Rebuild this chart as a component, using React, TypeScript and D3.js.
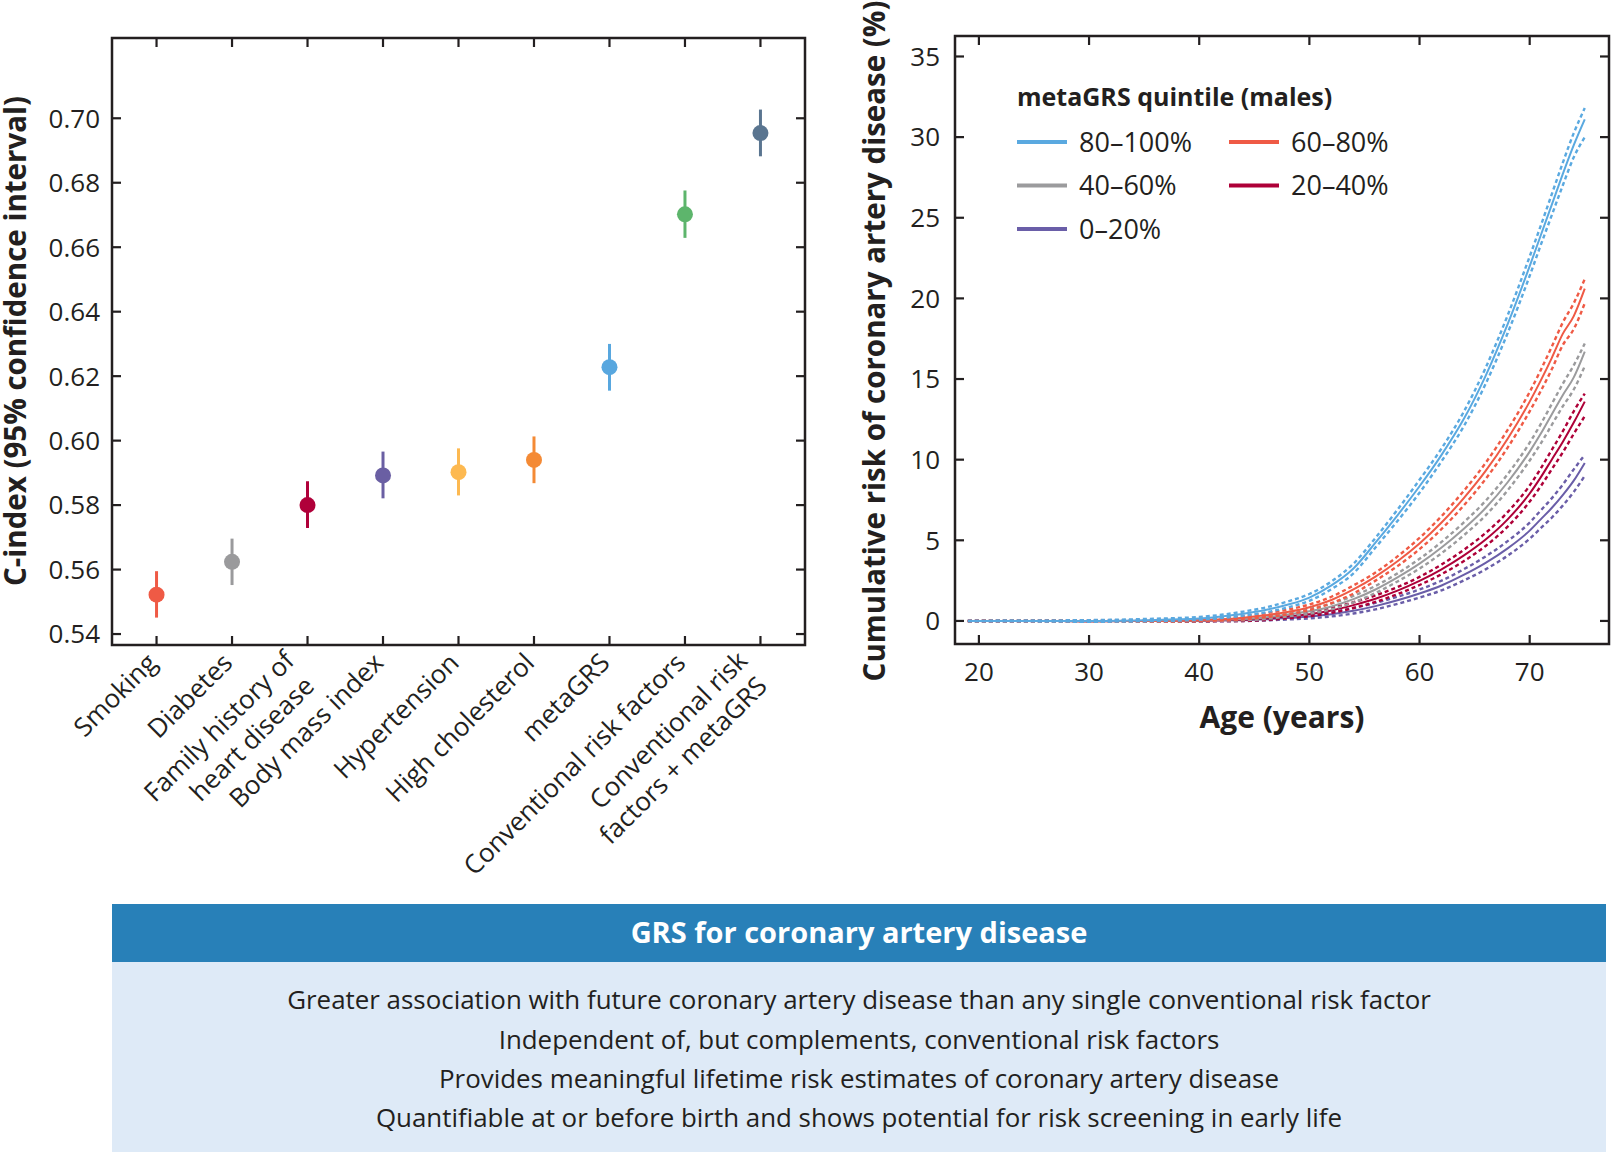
import React from "react";
import * as d3 from "d3";

// ---------- Left panel data ----------
const categoryLines: string[][] = [
  ["Smoking"],
  ["Diabetes"],
  ["Family history of", "heart disease"],
  ["Body mass index"],
  ["Hypertension"],
  ["High cholesterol"],
  ["metaGRS"],
  ["Conventional risk factors"],
  ["Conventional risk", "factors + metaGRS"],
];
const categories = categoryLines.map((l) => l.join(" "));
const cIndex = [0.5522, 0.5624, 0.58, 0.5892, 0.5902, 0.594, 0.6228, 0.6702, 0.6954];
const cLow = [0.5451, 0.5552, 0.5729, 0.5821, 0.583, 0.5868, 0.6155, 0.6629, 0.6882];
const cHigh = [0.5595, 0.5696, 0.5874, 0.5966, 0.5976, 0.6013, 0.63, 0.6776, 0.7027];
const cColors = ["#ef5a45", "#9a9a9c", "#b0003a", "#6a5fa3", "#fdb951", "#f48a35", "#58a7df", "#5db56c", "#5a7590"];
const cTicks = [0.54, 0.56, 0.58, 0.6, 0.62, 0.64, 0.66, 0.68, 0.7];

// ---------- Right panel data ----------
const ages = [19, 25, 30, 35, 40, 42, 44, 46, 48, 50, 52, 54, 56, 58, 60, 62, 64, 66, 68, 70, 71, 72, 73, 74, 75];

const q5Mid = [0, 0, 0, 0.05, 0.15, 0.28, 0.45, 0.68, 1.0, 1.45, 2.2, 3.25, 4.85, 6.55, 8.35, 10.3, 12.5, 15.2, 18.4, 22.0, 23.9, 25.8, 27.7, 29.5, 31.1];
const q5Up = [0.02, 0.03, 0.05, 0.12, 0.25, 0.38, 0.58, 0.83, 1.2, 1.67, 2.45, 3.55, 5.15, 6.9, 8.75, 10.7, 12.95, 15.7, 18.95, 22.6, 24.5, 26.45, 28.4, 30.25, 31.8];
const q5Lo = [-0.02, -0.03, -0.05, -0.02, 0.07, 0.18, 0.33, 0.53, 0.83, 1.25, 1.97, 2.95, 4.55, 6.2, 7.95, 9.9, 12.05, 14.7, 17.85, 21.4, 23.3, 25.15, 27.0, 28.75, 30.0];

const q4Mid = [0, 0, -0.02, 0, 0.05, 0.1, 0.2, 0.35, 0.55, 0.85, 1.3, 1.95, 2.75, 3.7, 4.8, 6.1, 7.6, 9.3, 11.3, 13.6, 14.9, 16.3, 17.8, 18.9, 20.6];
const q4Up = [0.02, 0.03, 0.03, 0.06, 0.12, 0.18, 0.3, 0.47, 0.7, 1.02, 1.5, 2.2, 3.0, 4.0, 5.15, 6.5, 8.05, 9.8, 11.85, 14.2, 15.55, 17.0, 18.5, 19.7, 21.2];
const q4Lo = [-0.02, -0.03, -0.06, -0.05, 0, 0.03, 0.1, 0.23, 0.4, 0.68, 1.1, 1.7, 2.5, 3.4, 4.45, 5.7, 7.15, 8.8, 10.75, 13.0, 14.25, 15.6, 17.1, 18.1, 19.7];

const q3Mid = [0, 0, -0.02, 0, 0.03, 0.07, 0.12, 0.22, 0.4, 0.6, 0.9, 1.35, 1.95, 2.7, 3.55, 4.55, 5.7, 7.0, 8.6, 10.5, 11.6, 12.8, 14.0, 15.1, 16.7];
const q3Up = [0.02, 0.03, 0.03, 0.05, 0.09, 0.14, 0.21, 0.32, 0.52, 0.75, 1.08, 1.55, 2.17, 2.95, 3.85, 4.9, 6.1, 7.45, 9.1, 11.05, 12.2, 13.45, 14.7, 15.85, 17.2];
const q3Lo = [-0.02, -0.03, -0.06, -0.04, -0.02, 0.01, 0.04, 0.12, 0.28, 0.45, 0.72, 1.15, 1.73, 2.45, 3.25, 4.2, 5.3, 6.55, 8.1, 9.95, 11.0, 12.15, 13.3, 14.35, 15.8];

const q2Mid = [0, 0, -0.02, 0, 0.02, 0.05, 0.08, 0.15, 0.28, 0.42, 0.65, 0.98, 1.38, 1.88, 2.48, 3.2, 4.05, 5.05, 6.3, 7.9, 8.9, 10.0, 11.1, 12.3, 13.6];
const q2Up = [0.02, 0.03, 0.03, 0.04, 0.07, 0.11, 0.16, 0.24, 0.39, 0.55, 0.8, 1.16, 1.58, 2.1, 2.73, 3.5, 4.4, 5.45, 6.75, 8.4, 9.45, 10.6, 11.75, 13.0, 14.1];
const q2Lo = [-0.02, -0.03, -0.06, -0.04, -0.03, -0.01, 0, 0.06, 0.17, 0.29, 0.5, 0.8, 1.18, 1.66, 2.23, 2.9, 3.7, 4.65, 5.85, 7.4, 8.35, 9.4, 10.45, 11.6, 12.7];

const q1Mid = [0, 0, -0.02, 0, 0.01, 0.03, 0.05, 0.1, 0.18, 0.28, 0.42, 0.63, 0.92, 1.28, 1.7, 2.2, 2.85, 3.6, 4.5, 5.6, 6.3, 7.0, 7.8, 8.7, 9.8];
const q1Up = [0.02, 0.03, 0.03, 0.04, 0.06, 0.08, 0.12, 0.18, 0.28, 0.4, 0.56, 0.8, 1.12, 1.5, 1.95, 2.5, 3.2, 4.0, 4.95, 6.1, 6.85, 7.6, 8.45, 9.4, 10.3];
const q1Lo = [-0.02, -0.03, -0.06, -0.04, -0.04, -0.02, -0.01, 0.03, 0.09, 0.16, 0.28, 0.46, 0.72, 1.06, 1.45, 1.9, 2.5, 3.2, 4.05, 5.1, 5.75, 6.4, 7.15, 8.0, 9.0];

const quintileNames = ["0–20%", "20–40%", "40–60%", "60–80%", "80–100%"];
const quintileColors = ["#6a5ea8", "#ae0038", "#9b9b9d", "#ef5a45", "#5aa9e0"];
const quintileSeries = [
  { mid: q1Mid, up: q1Up, lo: q1Lo },
  { mid: q2Mid, up: q2Up, lo: q2Lo },
  { mid: q3Mid, up: q3Up, lo: q3Lo },
  { mid: q4Mid, up: q4Up, lo: q4Lo },
  { mid: q5Mid, up: q5Up, lo: q5Lo },
];
// legend layout order: column 1: 80-100, 40-60, 0-20; column 2: 60-80, 20-40
const legendOrder = [4, 2, 0, 3, 1];

const ageTicks = [20, 30, 40, 50, 60, 70];
const riskTicks = [0, 5, 10, 15, 20, 25, 30, 35];

const boxTitle = "GRS for coronary artery disease";
const boxLines = [
  "Greater association with future coronary artery disease than any single conventional risk factor",
  "Independent of, but complements, conventional risk factors",
  "Provides meaningful lifetime risk estimates of coronary artery disease",
  "Quantifiable at or before birth and shows potential for risk screening in early life",
];

const FONT = "'Open Sans', Lato, sans-serif";
const INK = "#231f20";

export default function App() {
  // Left panel geometry
  const L = { x0: 112, x1: 805, y0: 38, y1: 645 };
  const xCat = d3.scalePoint<string>().domain(categories).range([L.x0, L.x1]).padding(0.59);
  const yC = d3.scaleLinear().domain([0.5366, 0.7249]).range([L.y1, L.y0]);

  // Right panel geometry
  const R = { x0: 955, x1: 1609, y0: 36, y1: 644 };
  const xAge = d3.scaleLinear().domain([17.83, 77.2]).range([R.x0, R.x1]);
  const yRisk = d3.scaleLinear().domain([-1.43, 36.27]).range([R.y1, R.y0]);
  const line = d3
    .line<number>()
    .x((_, i) => xAge(ages[i]))
    .y((d) => yRisk(d))
    .curve(d3.curveMonotoneX);

  const tickLen = 9;

  return (
    <svg
      width={1612}
      height={1152}
      style={{ position: "absolute", left: 0, top: 0, background: "#fff" }}
      fontFamily={FONT}
    >
      <rect x={0} y={0} width={1612} height={1152} fill="#fff" />

      {/* ---------------- Left panel ---------------- */}
      <g>
        {cTicks.map((t) => (
          <g key={t}>
            <line x1={L.x0} x2={L.x0 + tickLen} y1={yC(t)} y2={yC(t)} stroke={INK} strokeWidth={2.2} />
            <line x1={L.x1} x2={L.x1 - tickLen} y1={yC(t)} y2={yC(t)} stroke={INK} strokeWidth={2.2} />
            <text x={L.x0 - 12} y={yC(t)} dy="0.36em" textAnchor="end" fontSize={26} fill={INK}>
              {t.toFixed(2)}
            </text>
          </g>
        ))}
        {categories.map((c) => (
          <g key={c}>
            <line x1={xCat(c)} x2={xCat(c)} y1={L.y0} y2={L.y0 + tickLen} stroke={INK} strokeWidth={2.2} />
            <line x1={xCat(c)} x2={xCat(c)} y1={L.y1} y2={L.y1 - tickLen} stroke={INK} strokeWidth={2.2} />
          </g>
        ))}
        {categories.map((c, i) => (
          <g key={"pt" + c}>
            <line
              x1={xCat(c)}
              x2={xCat(c)}
              y1={yC(cLow[i])}
              y2={yC(cHigh[i])}
              stroke={cColors[i]}
              strokeWidth={3}
            />
            <circle cx={xCat(c)} cy={yC(cIndex[i])} r={8} fill={cColors[i]} />
          </g>
        ))}
        <rect x={L.x0} y={L.y0} width={L.x1 - L.x0} height={L.y1 - L.y0} fill="none" stroke={INK} strokeWidth={2.5} />
        {categoryLines.map((lines, i) => {
          const ax = (xCat(categories[i]) as number) - 4.5;
          const ay = L.y1 + 13;
          return (
            <text
              key={"lab" + i}
              transform={`translate(${ax},${ay}) rotate(-45)`}
              textAnchor="end"
              fontSize={26}
              fill={INK}
            >
              {lines.length === 1 ? (
                <tspan x={0} dy="0.35em">
                  {lines[0]}
                </tspan>
              ) : (
                lines.map((ln, j) => (
                  <tspan key={j} x={j === 0 ? -8 : -12} dy={j === 0 ? -2 : 32}>
                    {ln}
                  </tspan>
                ))
              )}
            </text>
          );
        })}
        <text
          transform={`translate(26,341) rotate(-90)`}
          textAnchor="middle"
          fontSize={29.5}
          fontWeight={700}
          fill={INK}
        >
          C-index (95% confidence interval)
        </text>
      </g>

      {/* ---------------- Right panel ---------------- */}
      <g>
        {riskTicks.map((t) => (
          <g key={t}>
            <line x1={R.x0} x2={R.x0 + tickLen} y1={yRisk(t)} y2={yRisk(t)} stroke={INK} strokeWidth={2.2} />
            <line x1={R.x1} x2={R.x1 - tickLen} y1={yRisk(t)} y2={yRisk(t)} stroke={INK} strokeWidth={2.2} />
            <text x={R.x0 - 15} y={yRisk(t)} dy="0.36em" textAnchor="end" fontSize={26} fill={INK}>
              {t}
            </text>
          </g>
        ))}
        {ageTicks.map((t) => (
          <g key={t}>
            <line x1={xAge(t)} x2={xAge(t)} y1={R.y0} y2={R.y0 + tickLen} stroke={INK} strokeWidth={2.2} />
            <line x1={xAge(t)} x2={xAge(t)} y1={R.y1} y2={R.y1 - tickLen} stroke={INK} strokeWidth={2.2} />
            <text x={xAge(t)} y={R.y1 + 28} dy="0.36em" textAnchor="middle" fontSize={26} fill={INK}>
              {t}
            </text>
          </g>
        ))}
        {quintileSeries.map((s, i) => (
          <g key={"q" + i} fill="none" stroke={quintileColors[i]}>
            <path d={line(s.up) || ""} strokeWidth={2.4} strokeDasharray="4 3" />
            <path d={line(s.lo) || ""} strokeWidth={2.4} strokeDasharray="4 3" />
            <path d={line(s.mid) || ""} strokeWidth={2} />
          </g>
        ))}
        <rect x={R.x0} y={R.y0} width={R.x1 - R.x0} height={R.y1 - R.y0} fill="none" stroke={INK} strokeWidth={2.5} />

        {/* legend */}
        <text x={1017} y={97} dy="0.36em" fontSize={25} fontWeight={700} fill={INK}>
          metaGRS quintile (males)
        </text>
        {legendOrder.map((qi, k) => {
          const col = k < 3 ? 0 : 1;
          const row = k < 3 ? k : k - 3;
          const sx = col === 0 ? 1017 : 1229;
          const yy = 142 + row * 43.5;
          return (
            <g key={"leg" + qi}>
              <line x1={sx} x2={sx + 50} y1={yy} y2={yy} stroke={quintileColors[qi]} strokeWidth={4} />
              <text x={sx + 62} y={yy} dy="0.36em" fontSize={27} fill={INK}>
                {quintileNames[qi]}
              </text>
            </g>
          );
        })}

        <text
          transform={`translate(885,341) rotate(-90)`}
          textAnchor="middle"
          fontSize={29.5}
          fontWeight={700}
          fill={INK}
        >
          Cumulative risk of coronary artery disease (%)
        </text>
        <text x={1282} y={717} dy="0.36em" textAnchor="middle" fontSize={30} fontWeight={700} fill={INK}>
          Age (years)
        </text>
      </g>

      {/* ---------------- Summary box ---------------- */}
      <g>
        <rect x={112} y={904} width={1494} height={58} fill="#2880b8" />
        <rect x={112} y={962} width={1494} height={190} fill="#deeaf7" />
        <text x={859} y={933} dy="0.36em" textAnchor="middle" fontSize={29} fontWeight={700} fill="#fff">
          {boxTitle}
        </text>
        {boxLines.map((t, i) => (
          <text key={i} x={859} y={1000 + i * 39.3} dy="0.36em" textAnchor="middle" fontSize={25.9} fill={INK}>
            {t}
          </text>
        ))}
      </g>
    </svg>
  );
}
